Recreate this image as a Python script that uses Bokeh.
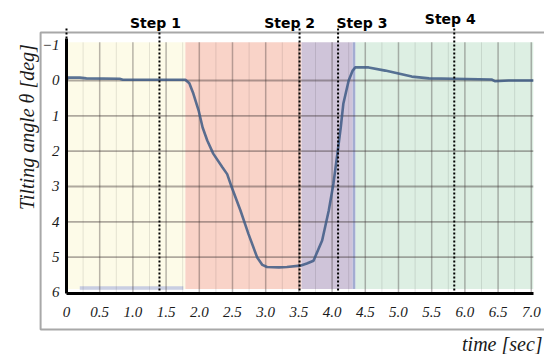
from bokeh.plotting import figure
from bokeh.models import Range1d, FixedTicker, Label, PrintfTickFormatter
from bokeh.embed import file_html
from bokeh.resources import INLINE
import math

# ---------------- data ----------------
time_s = [0.0, 0.02, 0.2, 0.3, 0.8, 0.85, 1.79, 1.85, 1.91, 1.99, 2.05, 2.12, 2.21,
          2.35, 2.42, 2.49, 2.62, 2.74, 2.87, 2.95, 3.02, 3.2, 3.32, 3.52, 3.62,
          3.72, 3.85, 3.95, 4.02, 4.08, 4.13, 4.17, 4.25, 4.31, 4.35, 4.55, 4.8,
          4.95, 5.2, 5.46, 5.83, 6.4, 6.45, 6.66, 7.03]
tilt_deg = [0.0, -0.08, -0.08, -0.06, -0.05, -0.02, -0.02, 0.08, 0.37, 0.85, 1.33,
            1.70, 2.07, 2.46, 2.65, 3.03, 3.68, 4.34, 5.00, 5.22, 5.28, 5.29, 5.28,
            5.24, 5.18, 5.10, 4.53, 3.68, 2.92, 2.07, 1.33, 0.65, 0.0, -0.28, -0.37,
            -0.37, -0.28, -0.22, -0.11, -0.06, -0.05, -0.03, 0.02, 0.0, 0.0]

phase_start = [0.0, 1.79, 3.54, 4.35]
phase_end = [1.79, 3.54, 4.31, 7.03]
phase_color = ["#FDFBE8", "#F9D3C8", "#CFC4D9", "#DDEFE3"]

step_names = ["Step 1", "Step 2", "Step 3", "Step 4"]
step_label_x = [1.34, 3.36, 4.45, 5.78]
step_label_y = [-1.64, -1.64, -1.64, -1.73]
step_line_x = [0.0, 1.40, 3.51, 4.09, 5.84]

x_ticks = [0, 0.5, 1.0, 1.5, 2.0, 2.5, 3.0, 3.5, 4.0, 4.5, 5.0, 5.5, 6.0, 6.5, 7.0]
y_ticks = [-1, 0, 1, 2, 3, 4, 5, 6]
h_grid = [0, 1, 2, 3, 4, 5]
v_grid_major = [0.5 * k for k in range(1, 15)]
v_grid_minor = [0.25 + 0.5 * k for k in range(0, 14)]

# ---------------- figure ----------------
X0, X1 = 0.0, 7.03          # plotted time span
YB, YT = 6.03, -1.08        # plotted angle span (inverted)

p = figure(width=544, height=354, output_backend="svg", toolbar_location=None,
           title=None,
           x_range=Range1d(-0.994, 7.199), y_range=Range1d(7.755, -2.264),
           min_border=0, min_border_left=0, min_border_right=0,
           min_border_top=0, min_border_bottom=0)
p.outline_line_color = None
p.background_fill_color = "white"
p.border_fill_color = "white"
p.xgrid.visible = False
p.ygrid.visible = False

# outer gray frame
p.quad(left=[-0.39], right=[7.35], top=[-1.36], bottom=[7.05],
       fill_alpha=0, line_color="#A8A8A8", line_width=2)

# phase backgrounds
p.quad(left=phase_start, right=phase_end, top=[YT] * 4, bottom=[5.9] * 4,
       fill_color=phase_color, line_color=None)
# thin blue strip at end of phase 3
p.quad(left=[4.31], right=[4.35], top=[YT], bottom=[5.9],
       fill_color="#A3ACD2", line_color=None)
# light bar at bottom of first phase
p.quad(left=[0.2], right=[1.76], top=[5.82], bottom=[5.92],
       fill_color="#C9CEE2", line_color=None)

# grid lines
p.segment(x0=v_grid_minor, x1=v_grid_minor, y0=[YT] * len(v_grid_minor),
          y1=[YB] * len(v_grid_minor), line_color="black", line_alpha=0.1, line_width=1)
p.segment(x0=v_grid_major, x1=v_grid_major, y0=[YT] * len(v_grid_major),
          y1=[YB] * len(v_grid_major), line_color="#3a3030", line_alpha=0.35, line_width=1.5)
p.segment(x0=[X0] * len(h_grid), x1=[X1] * len(h_grid), y0=h_grid, y1=h_grid,
          line_color="#3a3030", line_alpha=0.4, line_width=1.8)

# curve
p.line(time_s, tilt_deg, line_color="#3E5A85", line_alpha=0.85, line_width=2.6)

# dotted step lines
p.segment(x0=step_line_x, x1=step_line_x, y0=[-1.47] * len(step_line_x),
          y1=[5.95] * len(step_line_x), line_color="black", line_width=2,
          line_dash="2 2")

# axes drawn at fixed positions inside the canvas
for ax in (p.xaxis[0], p.yaxis[0]):
    ax.axis_line_width = 3
    ax.axis_line_color = "black"
    ax.major_tick_line_color = None
    ax.minor_tick_line_color = None
    ax.major_tick_out = 0
    ax.major_tick_in = 0
    ax.major_label_text_font = "Liberation Serif"
    ax.major_label_text_font_style = "italic"
    ax.major_label_text_font_size = "15px"
    ax.major_label_text_color = "#1a1a1a"

p.xaxis.fixed_location = YB
p.xaxis.bounds = (X0, X1)
p.xaxis.ticker = FixedTicker(ticks=x_ticks)
p.xaxis.formatter = PrintfTickFormatter(format="%.1f")
p.xaxis.major_label_overrides = {0: "0"}
p.xaxis.major_label_standoff = 13

p.yaxis.fixed_location = X0
p.yaxis.ticker = FixedTicker(ticks=y_ticks)
p.yaxis.major_label_standoff = 7
p.yaxis.bounds = (-1.2, YB)

# step labels
for name, sx, sy in zip(step_names, step_label_x, step_label_y):
    p.add_layout(Label(x=sx, y=sy, text=name,
                       text_align="center", text_baseline="alphabetic",
                       text_font="DejaVu Sans", text_font_style="bold",
                       text_font_size="14px", text_color="black"))

# axis titles
p.add_layout(Label(x=-0.60, y=1.32, text="Tilting angle \u03b8 [deg]",
                   angle=math.pi / 2, text_align="center", text_baseline="middle",
                   text_font="Liberation Serif", text_font_style="italic",
                   text_font_size="20px", text_color="#1a1a1a"))
p.add_layout(Label(x=7.17, y=7.47, text="time [sec]", text_align="right",
                   text_baseline="alphabetic",
                   text_font="Liberation Serif", text_font_style="italic",
                   text_font_size="20px", text_color="#1a1a1a"))

open("out.html", "w").write(file_html(p, INLINE))
